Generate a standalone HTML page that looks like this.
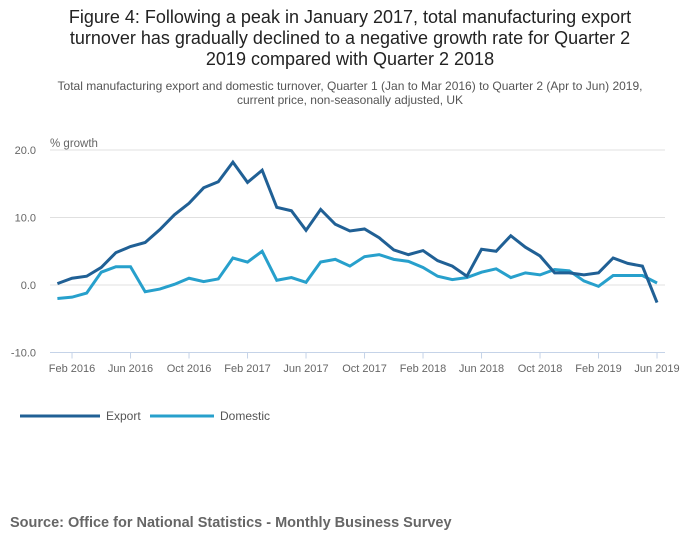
<!DOCTYPE html>
<html><head><meta charset="utf-8"><style>
body{margin:0;width:700px;height:549px;background:#fff;font-family:"Liberation Sans",sans-serif;overflow:hidden}
svg text{font-family:"Liberation Sans",sans-serif}
</style></head><body>
<svg id="c" width="700" height="549">
<text x="350" y="23" text-anchor="middle" font-size="18" fill="#222">Figure 4: Following a peak in January 2017, total manufacturing export</text>
<text x="350" y="44" text-anchor="middle" font-size="18" fill="#222">turnover has gradually declined to a negative growth rate for Quarter 2</text>
<text x="350" y="65" text-anchor="middle" font-size="18" fill="#222">2019 compared with Quarter 2 2018</text>
<text x="350" y="90" text-anchor="middle" font-size="12" fill="#555">Total manufacturing export and domestic turnover, Quarter 1 (Jan to Mar 2016) to Quarter 2 (Apr to Jun) 2019,</text>
<text x="350" y="104" text-anchor="middle" font-size="12" fill="#555">current price, non-seasonally adjusted, UK</text>
<text x="50" y="147" font-size="11.5" fill="#666">% growth</text>
<g id="grid"></g><g id="lines"></g>
<g>
<line x1="20" y1="416" x2="100" y2="416" stroke="#206095" stroke-width="3"/>
<text x="106" y="420" font-size="12" fill="#555">Export</text>
<line x1="150" y1="416" x2="214" y2="416" stroke="#27a0cc" stroke-width="3"/>
<text x="220" y="420" font-size="12" fill="#555">Domestic</text>
</g>
<text x="10" y="527" font-size="14.5" font-weight="bold" fill="#666">Source: Office for National Statistics - Monthly Business Survey</text>
</svg>
<script>
const exportVals=[0.2,1.0,1.3,2.6,4.8,5.7,6.3,8.2,10.4,12.1,14.4,15.3,18.2,15.2,17.0,11.5,11.0,8.1,11.2,9.0,8.0,8.3,7.0,5.2,4.5,5.1,3.6,2.8,1.3,5.3,5.0,7.3,5.6,4.3,1.8,1.8,1.5,1.8,4.0,3.2,2.8,-2.6];
const domesticVals=[-2.0,-1.8,-1.2,1.9,2.7,2.7,-1.0,-0.6,0.1,1.0,0.5,0.9,4.0,3.4,5.0,0.7,1.1,0.4,3.4,3.8,2.8,4.2,4.5,3.8,3.5,2.6,1.3,0.8,1.1,1.9,2.4,1.1,1.8,1.5,2.3,2.1,0.6,-0.2,1.4,1.4,1.4,0.3];
const yTicks=[20,10,0,-10];
const yTickLabels=["20.0","10.0","0.0","-10.0"];
const xTickIdx=[1,5,9,13,17,21,25,29,33,37,41];
const xTickLabels=["Feb 2016","Jun 2016","Oct 2016","Feb 2017","Jun 2017","Oct 2017","Feb 2018","Jun 2018","Oct 2018","Feb 2019","Jun 2019"];
const NS="http://www.w3.org/2000/svg";
const x=i=>57.4+i*14.625, y=v=>285-v*6.75;
const grid=document.getElementById('grid'), lines=document.getElementById('lines');
function mk(t,a,p){const e=document.createElementNS(NS,t);for(const k in a)e.setAttribute(k,a[k]);p.appendChild(e);return e;}
yTicks.forEach((v,i)=>{
 const l=mk('line',{x1:50,x2:665,y1:y(v),y2:y(v),stroke:v===-10?'#c5d3e8':'#e0e0e0','stroke-width':1},grid);
 
 
 const t=mk('text',{x:36,y:y(v)+4,'text-anchor':'end','font-size':11,fill:'#666'},grid);
 t.textContent=yTickLabels[i];
 
 
});
xTickIdx.forEach((m,i)=>{
 const l=mk('line',{x1:x(m),x2:x(m),y1:y(-10),y2:y(-10)+6,stroke:'#c5d3e8'},grid);
 
 
 const t=mk('text',{x:x(m),y:372,'text-anchor':'middle','font-size':11,fill:'#666'},grid);
 t.textContent=xTickLabels[i];
 
 
});
function series(vals,color,name){
 const p=mk('polyline',{points:vals.map((v,i)=>x(i)+','+y(v)).join(' '),fill:'none',stroke:color,'stroke-width':3,'stroke-linejoin':'miter'},lines);
 
 
}
series(domesticVals,'#27a0cc','domestic-line');
series(exportVals,'#206095','export-line');
</script>
</body></html>
